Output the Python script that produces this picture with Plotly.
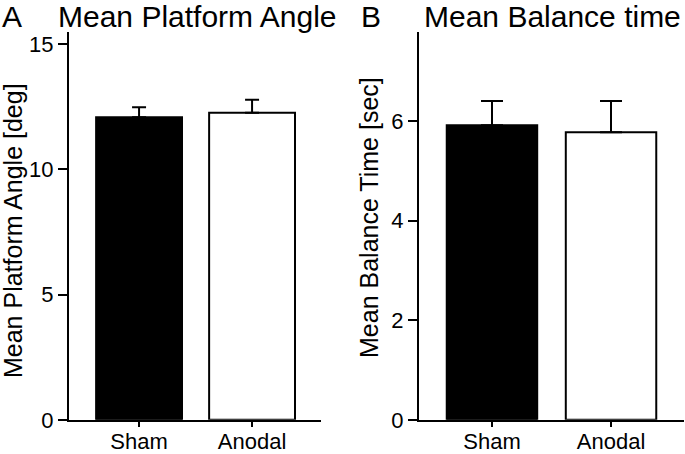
import plotly.graph_objects as go

# la capture ramène environ 469 px CSS de hauteur sur 454 px d'image :
# on construit la figure sur 685x469 avec les fractions de papier de l'image
W, H_IMG, H_FIG = 685, 454, 469

groupes = ["Sham", "Anodal"]
# A : angle moyen de la plateforme (deg)
angle_moy = [12.08, 12.26]
angle_sem = [0.40, 0.52]
# B : temps d'équilibre moyen (sec)
temps_moy = [5.91, 5.77]
temps_sem = [0.49, 0.63]

remplissage = ["black", "white"]
POLICE = "Liberation Sans, Arial, sans-serif"


def px_x(p):
    return p / W


def px_y(p):
    return 1 - p / H_IMG


fig = go.Figure()
for ax, moy, sem, cap in (("", angle_moy, angle_sem, 7), ("2", temps_moy, temps_sem, 11)):
    fig.add_trace(go.Bar(x=groupes, y=moy, width=0.76,
        marker=dict(color=remplissage, line=dict(color="black", width=2)),
        error_y=dict(type="data", symmetric=False, array=sem, arrayminus=[0, 0],
                     color="black", thickness=2, width=cap),
        xaxis="x" + ax, yaxis="y" + ax, showlegend=False))

ydom = [px_y(418), px_y(32)]
axe_x = dict(showline=True, linecolor="black", linewidth=2, ticks="outside",
             ticklen=5, tickwidth=2, tickcolor="black", showgrid=False,
             zeroline=False, ticklabelstandoff=-4, tickfont=dict(size=22, color="black"))
axe_y = dict(showline=True, linecolor="black", linewidth=2, ticks="outside",
             ticklen=9, tickwidth=2, tickcolor="black", showgrid=False,
             zeroline=False, tickfont=dict(size=22, color="black"))

fig.update_layout(
    margin=dict(l=0, r=0, t=0, b=0),
    paper_bgcolor="white", plot_bgcolor="white",
    font=dict(family=POLICE, color="black"),
    xaxis=dict(axe_x, domain=[px_x(69), px_x(321)], range=[-0.62, 1.61], anchor="y"),
    yaxis=dict(axe_y, domain=ydom, range=[0, 15.48], tickvals=[0, 5, 10, 15], anchor="x"),
    xaxis2=dict(axe_x, domain=[px_x(419), px_x(684)], range=[-0.613, 1.613], anchor="y2"),
    yaxis2=dict(axe_y, domain=ydom, range=[0, 7.78], tickvals=[0, 2, 4, 6], anchor="x2"),
)

# titres des panneaux
for txt, x in (("A", 0), ("Mean Platform Angle", 56), ("B", 359), ("Mean Balance time", 422)):
    fig.add_annotation(x=px_x(x), y=px_y(16), xref="paper", yref="paper", text=txt,
                       showarrow=False, xanchor="left", yanchor="middle",
                       font=dict(size=30, color="black"))

# titres des axes y
for txt, x, y in (("Mean Platform Angle [deg]", 13, 230), ("Mean Balance Time [sec]", 369, 217)):
    fig.add_annotation(x=px_x(x), y=px_y(y), xref="paper", yref="paper", text=txt,
                       showarrow=False, textangle=-90, xanchor="center", yanchor="middle",
                       font=dict(size=25, color="black"))

# div en position absolue, sans marge du body
fig.write_html("out.html", config={"displayModeBar": False},
               default_width=f"{W}px",
               default_height=f"{H_FIG}px; position:absolute; top:0px; left:0px")
